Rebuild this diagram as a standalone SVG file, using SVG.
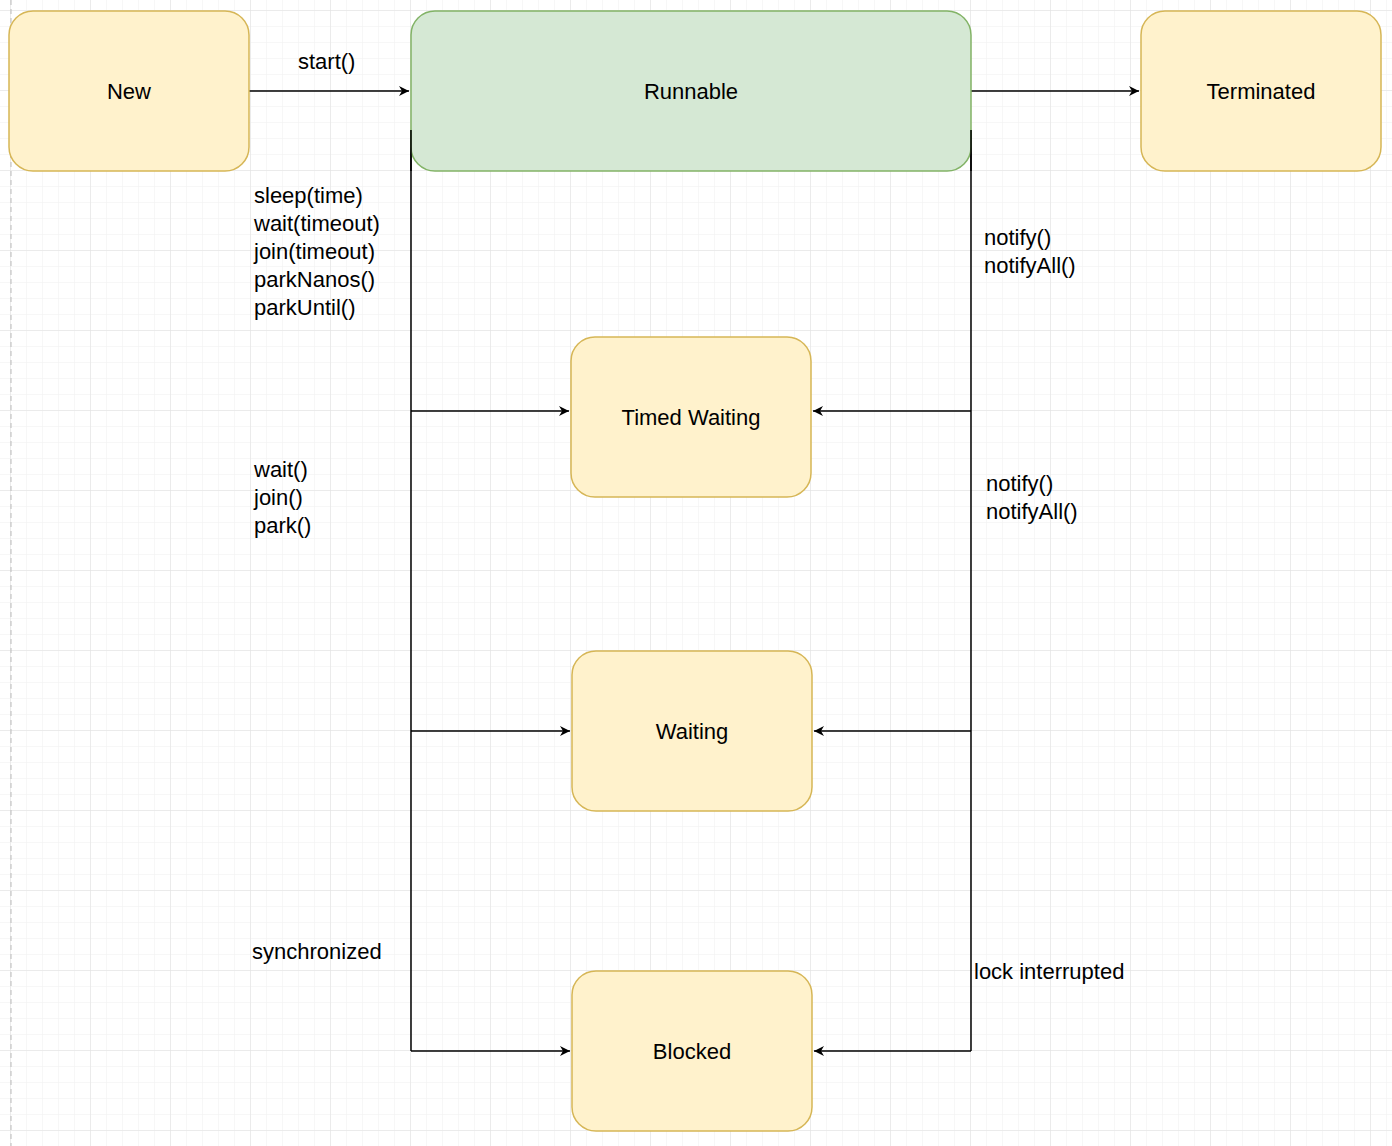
<svg xmlns="http://www.w3.org/2000/svg" width="1392" height="1146" viewBox="0 0 1392 1146">
<defs>
<pattern id="minor" x="10" y="10" width="16" height="16" patternUnits="userSpaceOnUse"><path d="M0 0H16M0 0V16" stroke="#f0f0f0" stroke-width="1" fill="none"/></pattern>
<pattern id="major" x="10" y="10" width="80" height="80" patternUnits="userSpaceOnUse"><path d="M0 0H80M0 0V80" stroke="#e0e0e0" stroke-width="1" fill="none"/></pattern>
<marker id="arr" viewBox="0 0 10 10" refX="10" refY="5" markerWidth="10" markerHeight="10" markerUnits="userSpaceOnUse" orient="auto"><path d="M0 0L10 5L0 10L3 5Z" fill="#000"/></marker>
</defs>
<style>
.y{fill:#fff2cc;stroke:#d6b656;stroke-width:1.5}
.g{fill:#d5e8d4;stroke:#82b366;stroke-width:1.5}
text{font-family:"Liberation Sans",Arial,sans-serif;font-size:22px;fill:#000}
.c{text-anchor:middle;dominant-baseline:central}
.e{stroke:#000;stroke-width:1.5;fill:none}
</style>
<rect width="1392" height="1146" fill="#fff"/>
<rect width="1392" height="1146" fill="url(#minor)"/>
<rect width="1392" height="1146" fill="url(#major)"/>
<line x1="11" y1="0" x2="11" y2="1146" stroke="#bbb" stroke-dasharray="5,4"/>
<g id="connectors">
<path class="e" d="M249 91H409" marker-end="url(#arr)"/>
<path class="e" d="M971 91H1139" marker-end="url(#arr)"/>
<path class="e" d="M411 130V1051"/>
<path class="e" d="M971 130V1051"/>
<path class="e" d="M411 411H569" marker-end="url(#arr)"/>
<path class="e" d="M411 731H570" marker-end="url(#arr)"/>
<path class="e" d="M411 1051H570" marker-end="url(#arr)"/>
<path class="e" d="M971 411H813" marker-end="url(#arr)"/>
<path class="e" d="M971 731H814" marker-end="url(#arr)"/>
<path class="e" d="M971 1051H814" marker-end="url(#arr)"/>
<text x="298" y="69">start()</text>
<text x="254" y="203">sleep(time)</text>
<text x="254" y="231">wait(timeout)</text>
<text x="254" y="259">join(timeout)</text>
<text x="254" y="287">parkNanos()</text>
<text x="254" y="315">parkUntil()</text>
<text x="254" y="477">wait()</text>
<text x="254" y="505">join()</text>
<text x="254" y="533">park()</text>
<text x="252" y="959">synchronized</text>
<text x="984" y="245">notify()</text>
<text x="984" y="273">notifyAll()</text>
<text x="986" y="491">notify()</text>
<text x="986" y="519">notifyAll()</text>
<text x="974" y="979">lock interrupted</text>
</g>
<g id="new"><rect class="y" x="9" y="11" width="240" height="160" rx="24"/><text class="c" x="129" y="91">New</text></g>
<g id="runnable"><rect class="g" x="411" y="11" width="560" height="160" rx="24"/><text class="c" x="691" y="91">Runnable</text></g>
<g id="terminated"><rect class="y" x="1141" y="11" width="240" height="160" rx="24"/><text class="c" x="1261" y="91">Terminated</text></g>
<g id="timed"><rect class="y" x="571" y="337" width="240" height="160" rx="24"/><text class="c" x="691" y="417">Timed Waiting</text></g>
<g id="waiting"><rect class="y" x="572" y="651" width="240" height="160" rx="24"/><text class="c" x="692" y="731">Waiting</text></g>
<g id="blocked"><rect class="y" x="572" y="971" width="240" height="160" rx="24"/><text class="c" x="692" y="1051">Blocked</text></g>
<path class="e" d="M411 130V171M971 130V171"/>
</svg>
